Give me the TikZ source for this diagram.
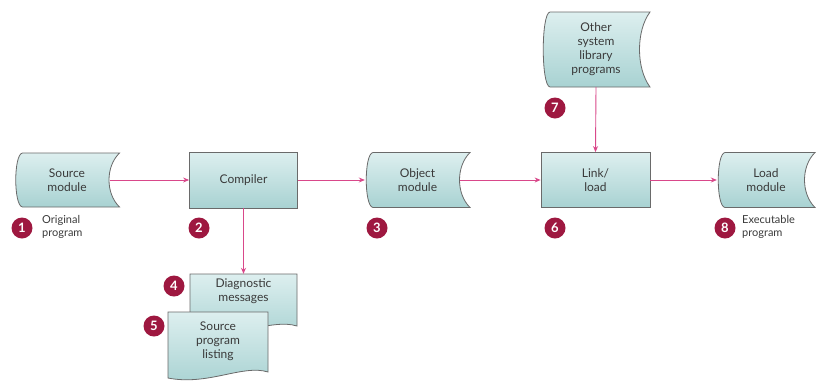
\documentclass[tikz,border=0pt]{standalone}
\usepackage{fontspec}
\setmainfont{Lato}
\usetikzlibrary{arrows.meta}
\definecolor{arrowpink}{HTML}{D9488A}
\definecolor{badgered}{HTML}{9E1840}
\definecolor{boxtop}{HTML}{DDEFEF}
\definecolor{boxbot}{HTML}{A8D2D2}
\definecolor{boxline}{HTML}{6A6A6A}
\definecolor{txtgray}{HTML}{3A3A3A}
\tikzset{
  boxfill/.style={draw=boxline, line width=0.8pt, top color=boxtop, bottom color=boxbot},
  txt/.style={align=center, text=txtgray, font=\fontsize{12}{14}\selectfont, inner sep=0pt},
  rectbox/.style={boxfill, txt},
  conn/.style={draw=arrowpink, line width=0.9pt, -{Stealth[length=6pt,width=5pt]}},
  badge/.style={circle, fill=badgered, text=white, minimum size=21pt, inner sep=0pt, font=\bfseries\fontsize{13}{13}\selectfont},
  note/.style={align=left, anchor=west, text=txtgray, font=\fontsize{11}{12.5}\selectfont, inner sep=0pt}
}
% stored-data shape: name, cx, cy, w, h, text
\newcommand\sdnode[6]{%
  \path[boxfill] ({#2-#4/2+8},{#3-#5/2}) -- ({#2+#4/2},{#3-#5/2})
    .. controls ({#2+#4/2-14},{#3-#5/4}) and ({#2+#4/2-14},{#3+#5/4}) .. ({#2+#4/2},{#3+#5/2})
    -- ({#2-#4/2+8},{#3+#5/2})
    .. controls ({#2-#4/2-1},{#3+#5/2-1}) and ({#2-#4/2-1},{#3-#5/2+1}) .. cycle;
  \node[txt, minimum width=#4, minimum height=#5] (#1) at (#2,#3) {#6};}
% document shape with wavy bottom: name, cx, cy, w, h, text, text yshift
\newcommand\docnode[7]{%
  \path[boxfill] ({#2-#4/2},{#3+#5/2}) -- ({#2-#4/2},{#3-#5/2}) -- ({#2+#4/2},{#3-#5/2}) -- ({#2+#4/2},{#3+#5/2-6})
    .. controls ({#2+#4/2-25},{#3+#5/2-14}) and ({#2-#4/2+40},{#3+#5/2+8}) .. cycle;
  \node[minimum width=#4, minimum height=#5, inner sep=0pt] (#1) at (#2,#3) {};
  \node[txt] at ({#2},{#3+#7}) {#6};}
\begin{document}
\begin{tikzpicture}[x=1pt,y=-1pt]
\useasboundingbox (0,0) rectangle (821,381);
\fill[white] (0,0) rectangle (821,381);

\sdnode{src}{67}{180}{105}{54}{Source\\module}
\node[rectbox, minimum width=108, minimum height=56] (comp) at (243.5,180) {Compiler};
\sdnode{obj}{417.5}{180}{105}{55}{Object\\module}
\node[rectbox, minimum width=109, minimum height=55] (link) at (595.5,180) {Link/\\load};
\sdnode{other}{596}{49.5}{108}{75}{Other\\system\\library\\programs}
\sdnode{load}{766}{180}{98}{55}{Load\\module}

\docnode{diag}{243.5}{303}{107}{58}{Diagnostic\\messages}{-12}
\docnode{list}{218}{345}{100}{66}{Source\\program\\listing}{-4}

\draw[conn] ([xshift=-10pt]src.east) -- (comp.west);
\draw[conn] (comp.east) -- (obj.west);
\draw[conn] ([xshift=-10pt]obj.east) -- (link.west);
\draw[conn] (link.east) -- (load.west);
\draw[conn] (other.south) -- (link.north);
\draw[conn] (comp.south) -- (diag.north);

\node[badge] (b1) at (22,228) {1};
\node[note] (n1) at (42,227) {Original\\program};
\node[badge] (b2) at (199,228) {2};
\node[badge] (b3) at (377,228) {3};
\node[badge] (b6) at (555,228) {6};
\node[badge] (b7) at (555,108) {7};
\node[badge] (b8) at (725,228) {8};
\node[note] (n8) at (742,227) {Executable\\program};
\node[badge] (b4) at (174,286) {4};
\node[badge] (b5) at (154,326) {5};
\end{tikzpicture}
\end{document}
